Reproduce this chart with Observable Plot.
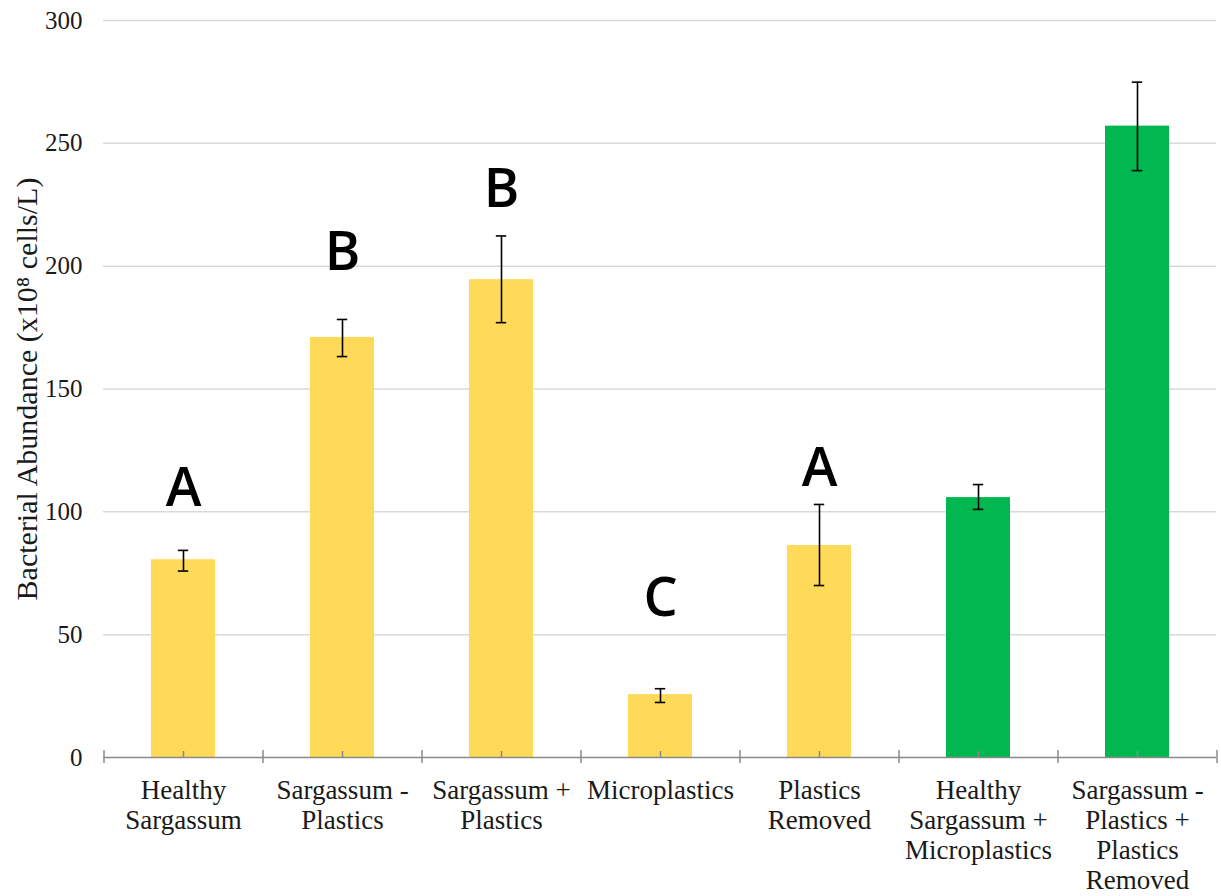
<!DOCTYPE html>
<html><head><meta charset="utf-8">
<script src="https://cdn.jsdelivr.net/npm/d3@7"></script>
<script src="https://cdn.jsdelivr.net/npm/@observablehq/plot@0.6"></script>
<style>body{margin:0;background:#fff} #chart svg{display:block}</style>
</head><body><div id="chart"></div>
<script>
const categories = ["Healthy Sargassum", "Sargassum - Plastics", "Sargassum + Plastics", "Microplastics", "Plastics Removed", "Healthy Sargassum + Microplastics", "Sargassum - Plastics + Plastics Removed"];
const tickLabels = ["Healthy\nSargassum", "Sargassum -\nPlastics", "Sargassum +\nPlastics", "Microplastics", "Plastics\nRemoved", "Healthy\nSargassum +\nMicroplastics", "Sargassum -\nPlastics +\nPlastics\nRemoved"];
const values = [80.5, 171, 194.5, 25.6, 86.3, 105.8, 257];
const errLow = [75.9, 163.2, 177, 22.4, 70, 101, 238.9];
const errHigh = [84.3, 178.3, 212.3, 28, 103, 111.1, 274.9];
const groups = ["single", "single", "single", "single", "single", "combined", "combined"];
const letterCats = ["Healthy Sargassum", "Sargassum - Plastics", "Sargassum + Plastics", "Microplastics", "Plastics Removed"];
const letters = ["A", "B", "B", "C", "A"];
const letterY = [102.2, 198.6, 224, 57.8, 110.7];
const yTicks = [0, 50, 100, 150, 200, 250, 300];
const yLabel = "Bacterial Abundance (x10⁸ cells/L)";

const W = 1221, H = 896, mL = 103, mR = 5, mT = 20, mB = 139;
const padIn = 0.6, padOut = 0.3;
const step = (W - mL - mR) / categories.length;
const bw = step * (1 - padIn);
const capW = 10;

const rows = categories.map((c, i) => ({cat: c, label: tickLabels[i], v: values[i], lo: errLow[i], hi: errHigh[i], g: groups[i]}));
const letterRows = letterCats.map((c, i) => ({cat: c, t: letters[i], y: letterY[i]}));
const serif = "'Liberation Serif', 'Times New Roman', serif";

const chart = Plot.plot({
  width: W, height: H,
  marginLeft: mL, marginRight: mR, marginTop: mT, marginBottom: mB,
  style: {fontFamily: serif, color: "#1a1a1a", background: "#fff"},
  x: {domain: categories, paddingInner: padIn, paddingOuter: padOut, axis: null},
  y: {domain: [0, 300], ticks: yTicks, axis: null},
  color: {domain: ["single", "combined"], range: ["#FFD958", "#00B84F"]},
  marks: [
    Plot.ruleY(yTicks.filter(d => d > 0), {stroke: "#d9d9d9", strokeWidth: 1.5}),
    Plot.barY(rows, {x: "cat", y: "v", fill: "g"}),
    Plot.ruleX(rows, {x: "cat", y1: "lo", y2: "hi", stroke: "#000", strokeWidth: 1.6}),
    Plot.tickY(rows, {x: "cat", y: "lo", stroke: "#000", strokeWidth: 1.6, insetLeft: (bw - capW) / 2, insetRight: (bw - capW) / 2}),
    Plot.tickY(rows, {x: "cat", y: "hi", stroke: "#000", strokeWidth: 1.6, insetLeft: (bw - capW) / 2, insetRight: (bw - capW) / 2}),
    Plot.ruleY([0], {stroke: "#8a8a8a", strokeWidth: 1.5}),
    Plot.ruleX(categories, {x: d => d, y1: 0, y2: 0, dx: -step / 2, insetTop: -7, insetBottom: -6, stroke: "#8a8a8a", strokeWidth: 1.5}),
    Plot.ruleX(categories.slice(-1), {x: d => d, y1: 0, y2: 0, dx: step / 2, insetTop: -7, insetBottom: -6, stroke: "#8a8a8a", strokeWidth: 1.5}),
    Plot.ruleX(categories, {x: d => d, y1: 0, y2: 0, insetTop: -6, insetBottom: 0, stroke: "#8a8a8a", strokeWidth: 1.5}),
    Plot.text(yTicks, {y: d => d, text: d => String(d), frameAnchor: "left", textAnchor: "end", dx: -21, fontSize: 25, fill: "#1a1a1a"}),
    Plot.text(rows, {x: "cat", text: "label", frameAnchor: "bottom", lineAnchor: "top", dy: 20, fontSize: 27, lineHeight: 1.11, fill: "#1a1a1a"}),
    Plot.text(letterRows, {x: "cat", y: "y", text: "t", lineAnchor: "bottom", fontSize: 54, fontWeight: 600, fontFamily: "'Open Sans', Lato, sans-serif", fill: "#000"}),
    Plot.text([yLabel], {text: d => d, frameAnchor: "left", textAnchor: "middle", rotate: -90, dx: -76, fontSize: 30, fill: "#1a1a1a"})
  ]
});
document.getElementById("chart").appendChild(chart);
</script>
</body></html>
